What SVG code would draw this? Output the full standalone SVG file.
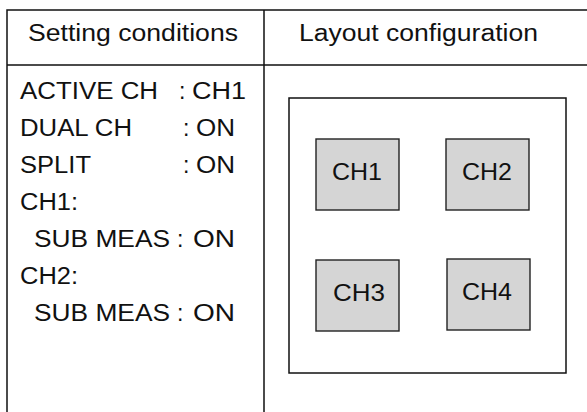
<svg xmlns="http://www.w3.org/2000/svg" width="587" height="412" viewBox="0 0 587 412">
<style>
.t{font-family:"Liberation Sans",Arial,sans-serif;font-size:23px;fill:#111}
.b{font-family:"Liberation Sans",Arial,sans-serif;font-size:24px;fill:#111}
.ln{stroke:#111;stroke-width:1.5;fill:none}
.ch{fill:#d5d5d5;stroke:#222;stroke-width:1.4}
</style>
<rect width="587" height="412" fill="#fff"/>
<g id="table">
<path class="ln" d="M7,412 V10 H587 M7,65 H587 M264,10 V412"/>
</g>
<g id="header-setting">
<text class="t" x="28" y="41" textLength="210" lengthAdjust="spacingAndGlyphs">Setting conditions</text>
</g>
<g id="header-layout">
<text class="t" x="299" y="41" textLength="239" lengthAdjust="spacingAndGlyphs">Layout configuration</text>
</g>
<g id="conditions">
<text class="t" x="20" y="99" textLength="138" lengthAdjust="spacingAndGlyphs">ACTIVE CH</text>
<text class="t" x="179" y="99">:</text>
<text class="t" x="192" y="99" textLength="54" lengthAdjust="spacingAndGlyphs">CH1</text>
<text class="t" x="20" y="136" textLength="112" lengthAdjust="spacingAndGlyphs">DUAL CH</text>
<text class="t" x="183" y="136">:</text>
<text class="t" x="196" y="136" textLength="39" lengthAdjust="spacingAndGlyphs">ON</text>
<text class="t" x="20" y="173" textLength="71" lengthAdjust="spacingAndGlyphs">SPLIT</text>
<text class="t" x="183" y="173">:</text>
<text class="t" x="196" y="173" textLength="39" lengthAdjust="spacingAndGlyphs">ON</text>
<text class="t" x="20" y="210" textLength="58" lengthAdjust="spacingAndGlyphs">CH1:</text>
<text class="t" x="34" y="247" textLength="136" lengthAdjust="spacingAndGlyphs">SUB MEAS</text>
<text class="t" x="177" y="247">:</text>
<text class="t" x="193" y="247" textLength="42" lengthAdjust="spacingAndGlyphs">ON</text>
<text class="t" x="20" y="284" textLength="58" lengthAdjust="spacingAndGlyphs">CH2:</text>
<text class="t" x="34" y="321" textLength="136" lengthAdjust="spacingAndGlyphs">SUB MEAS</text>
<text class="t" x="177" y="321">:</text>
<text class="t" x="193" y="321" textLength="42" lengthAdjust="spacingAndGlyphs">ON</text>
</g>
<g id="screen">
<rect class="ln" x="289" y="98" width="277" height="275"/>
</g>
<g id="ch1">
<rect class="ch" x="316" y="139" width="83" height="71"/>
<text class="b" x="332" y="180" textLength="50" lengthAdjust="spacingAndGlyphs">CH1</text>
</g>
<g id="ch2">
<rect class="ch" x="446" y="139" width="83" height="71"/>
<text class="b" x="462" y="180" textLength="50" lengthAdjust="spacingAndGlyphs">CH2</text>
</g>
<g id="ch3">
<rect class="ch" x="316" y="260" width="83" height="71"/>
<text class="b" x="333" y="301" textLength="52" lengthAdjust="spacingAndGlyphs">CH3</text>
</g>
<g id="ch4">
<rect class="ch" x="447" y="259" width="83" height="71"/>
<text class="b" x="462" y="300" textLength="50" lengthAdjust="spacingAndGlyphs">CH4</text>
</g>
<g id="connectors"/>
</svg>
